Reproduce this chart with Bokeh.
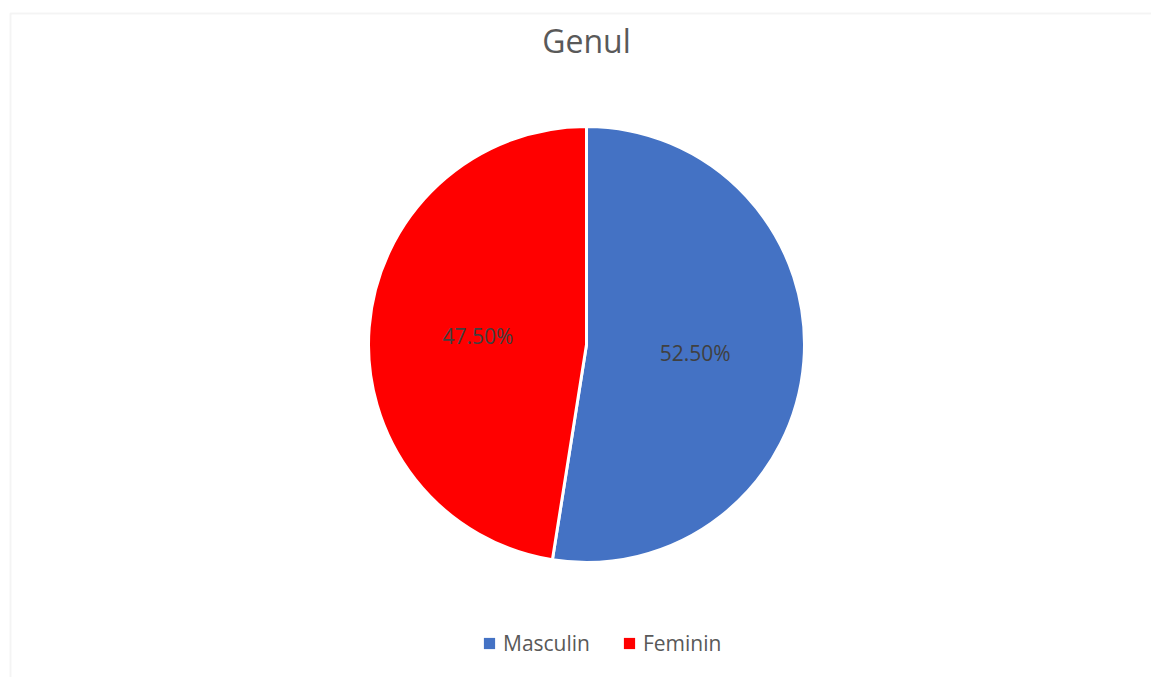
import math
from bokeh.plotting import figure
from bokeh.models import ColumnDataSource, Legend, LegendItem, BoxAnnotation, Range1d
from bokeh.core.properties import value
from bokeh.embed import file_html
from bokeh.resources import INLINE

title = "Genul"
categories = ["Masculin", "Feminin"]
shares = [52.5, 47.5]
colors = ["#4472C4", "#FF0000"]

W, H = 1151, 677
p = figure(width=W, height=H, output_backend="svg", toolbar_location=None,
           x_range=Range1d(0, W), y_range=Range1d(0, H), min_border=0)
p.axis.visible = False
p.grid.visible = False
p.outline_line_color = None
p.background_fill_color = "white"

# chart frame (partially visible)
p.add_layout(BoxAnnotation(left=10, right=W + 50, top=H - 13, bottom=-50,
                           fill_alpha=0, line_color="#d9d9d9", line_width=2))

cx, cy, r = 586, 333, 218
total = sum(shares)
starts, ends, lx, ly, labels = [], [], [], [], []
a = math.pi / 2
for s in shares:
    span = 2 * math.pi * s / total
    starts.append(a - span)
    ends.append(a)
    mid = a - span / 2
    lx.append(cx + 0.5 * r * math.cos(mid))
    ly.append(cy + 0.5 * r * math.sin(mid))
    labels.append(f"{s:.2f}%")
    a -= span

src = ColumnDataSource(dict(cat=categories, start=starts, end=ends, color=colors,
                            lx=lx, ly=ly, label=labels))
p.wedge(x=cx, y=cy, radius=r, start_angle="start", end_angle="end",
        fill_color="color", line_color="white", line_width=3, source=src)

p.text(x="lx", y="ly", text="label", source=src, text_align="center",
       text_baseline="middle", text_font=value("Open Sans"), text_font_size="21px",
       text_color="#404040")

p.text(x=[cx], y=[H - 40], text=[title], text_align="center", text_baseline="middle",
       text_font=value("Open Sans"), text_font_size="32px", text_color="#595959")

nan = float("nan")
items = []
for c, col in zip(categories, colors):
    rr = p.quad(left=[nan], right=[nan], top=[nan], bottom=[nan],
                fill_color=col, line_color=None)
    items.append(LegendItem(label=c, renderers=[rr]))
legend = Legend(items=items, orientation="horizontal", location=(482, 20),
                label_text_font="Open Sans", label_text_font_size="21px",
                label_text_color="#595959", glyph_width=14, glyph_height=14,
                label_height=22, label_standoff=7, spacing=32, padding=0, margin=0,
                border_line_color=None, background_fill_alpha=0)
p.add_layout(legend, "center")

open("out.html", "w").write(file_html(p, INLINE))
